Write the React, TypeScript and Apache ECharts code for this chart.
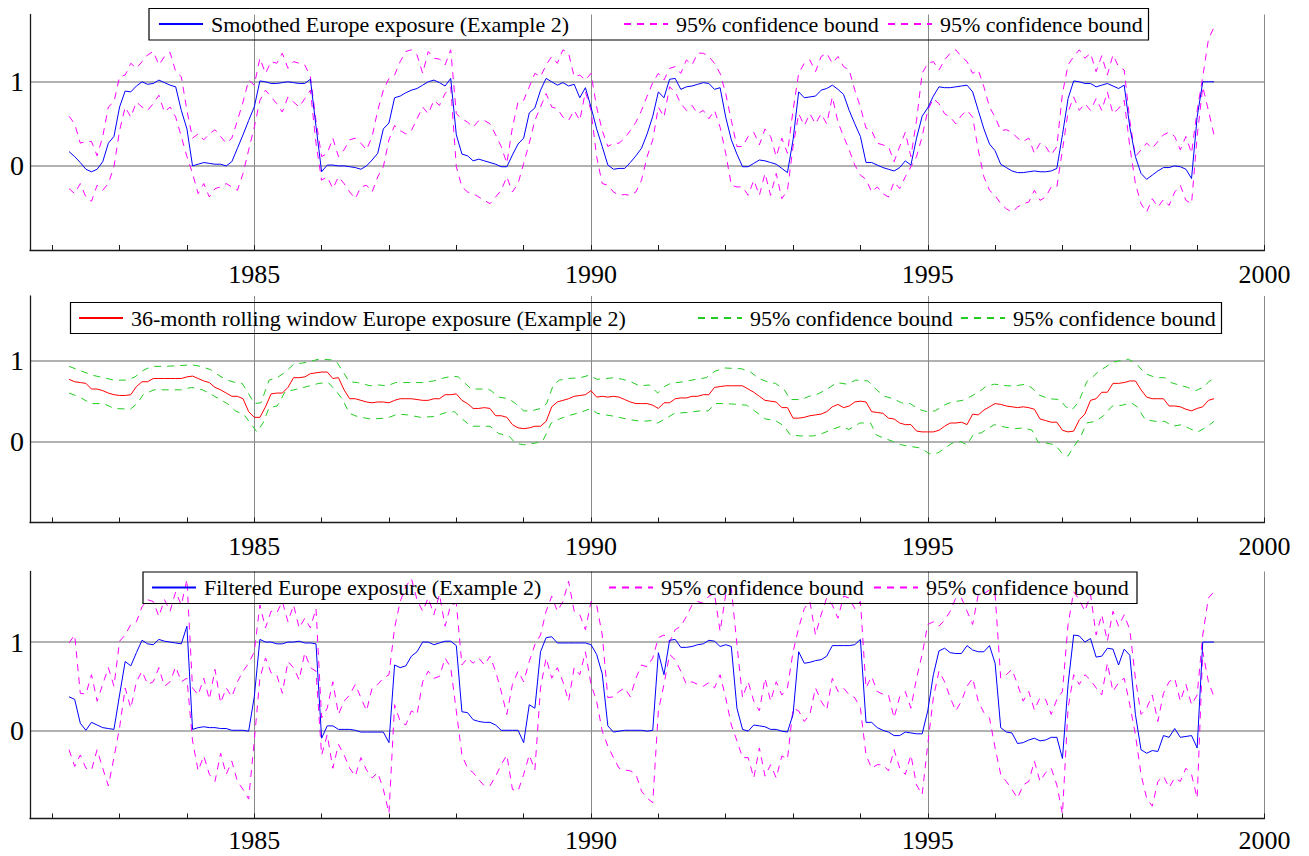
import { useEffect, useRef } from "react";
import * as echarts from "echarts";

// ---------- data (monthly, first observation April 1982) ----------
const START_YEAR = 1982.25;
const X_MIN = 1981.67;
const X_MAX = 2000;

const smoothed = [
  0.17, 0.11, 0.04, -0.04, -0.07, -0.04, 0.05, 0.27, 0.35, 0.70,
  0.89, 0.88, 0.95, 1.00, 0.97, 0.98, 1.02, 0.99, 0.96, 0.94,
  0.66, 0.44, 0.00, 0.02, 0.04, 0.03, 0.02, 0.02, 0.00, 0.05,
  0.21, 0.37, 0.54, 0.70, 1.01, 1.00, 0.98, 0.98, 0.99, 1.00,
  0.99, 0.98, 0.98, 1.03, 0.47, -0.07, 0.01, 0.01, 0.00, 0.00,
  -0.01, -0.02, -0.04, 0.00, 0.07, 0.15, 0.44, 0.51, 0.81, 0.83,
  0.87, 0.90, 0.92, 0.96, 1.00, 1.02, 0.99, 0.95, 1.04, 0.37,
  0.14, 0.12, 0.06, 0.08, 0.06, 0.04, 0.02, -0.01, -0.01, 0.13,
  0.26, 0.33, 0.63, 0.69, 0.90, 1.04, 1.00, 0.96, 0.99, 0.95,
  0.97, 0.81, 0.93, 0.70, 0.44, 0.23, 0.01, -0.04, -0.03, -0.03,
  0.04, 0.12, 0.21, 0.38, 0.59, 0.88, 0.81, 1.03, 1.04, 0.91,
  0.94, 0.95, 0.97, 0.99, 0.98, 0.91, 0.93, 0.58, 0.31, 0.14,
  -0.01, -0.01, 0.03, 0.07, 0.06, 0.04, 0.02, -0.03, -0.08, 0.31,
  0.88, 0.81, 0.82, 0.83, 0.90, 0.92, 0.96, 0.91, 0.85, 0.66,
  0.50, 0.35, 0.04, 0.04, 0.01, -0.02, -0.04, -0.06, -0.02, 0.06,
  0.01, 0.33, 0.59, 0.69, 0.83, 0.94, 0.93, 0.93, 0.94, 0.95,
  0.96, 0.88, 0.66, 0.44, 0.26, 0.18, 0.02, -0.02, -0.06, -0.08,
  -0.08, -0.07, -0.06, -0.07, -0.07, -0.06, -0.03, 0.37, 0.80, 1.01,
  1.00, 0.98, 0.98, 0.94, 0.96, 0.98, 0.95, 0.92, 0.96, 0.46,
  0.11, -0.09, -0.16, -0.11, -0.06, -0.02, -0.02, 0.00, -0.01, -0.04,
  -0.15, 0.58, 1.00, 1.00, 1.00,
];

const smoothedUpper = [
  0.59, 0.50, 0.27, 0.29, 0.29, 0.12, 0.35, 0.70, 0.76, 1.06,
  1.08, 1.22, 1.16, 1.24, 1.32, 1.36, 1.20, 1.30, 1.35, 1.12,
  1.06, 0.66, 0.33, 0.38, 0.31, 0.38, 0.43, 0.35, 0.27, 0.33,
  0.54, 0.76, 1.02, 0.96, 1.28, 1.10, 1.24, 1.22, 1.34, 1.16,
  1.24, 1.22, 1.20, 1.06, 0.54, 0.11, 0.15, 0.33, 0.11, 0.19,
  0.31, 0.33, 0.27, 0.19, 0.35, 0.66, 0.90, 1.04, 1.08, 1.24,
  1.36, 1.38, 1.32, 1.10, 1.36, 1.28, 1.27, 1.20, 1.38, 0.62,
  0.56, 0.52, 0.46, 0.54, 0.54, 0.50, 0.37, 0.23, 0.03, 0.46,
  0.76, 0.78, 0.94, 1.10, 1.06, 1.20, 1.30, 1.22, 1.38, 1.34,
  1.06, 1.08, 1.02, 1.10, 0.70, 0.42, 0.23, 0.27, 0.27, 0.33,
  0.42, 0.52, 0.66, 0.83, 0.99, 1.10, 1.02, 1.16, 1.18, 1.10,
  1.26, 1.20, 1.34, 1.34, 1.30, 1.22, 1.10, 0.86, 0.54, 0.23,
  0.23, 0.35, 0.40, 0.25, 0.44, 0.35, 0.11, 0.33, 0.15, 0.66,
  1.10, 1.22, 1.26, 1.12, 1.30, 1.34, 1.22, 1.30, 1.18, 1.14,
  0.90, 0.70, 0.45, 0.42, 0.27, 0.25, 0.23, 0.05, 0.23, 0.40,
  0.11, 0.54, 1.10, 1.22, 1.24, 1.14, 1.26, 1.34, 1.38, 1.30,
  1.24, 1.10, 1.14, 0.94, 0.70, 0.58, 0.42, 0.43, 0.40, 0.33,
  0.29, 0.33, 0.15, 0.27, 0.23, 0.13, 0.23, 0.86, 1.20, 1.30,
  1.38, 1.28, 1.34, 1.12, 1.31, 1.08, 1.32, 1.18, 1.14, 0.54,
  0.11, 0.19, 0.27, 0.21, 0.29, 0.37, 0.40, 0.35, 0.19, 0.35,
  0.15, 0.66, 1.06, 1.50, 1.65,
];

const smoothedLower = [
  -0.27, -0.33, -0.21, -0.37, -0.42, -0.23, -0.29, -0.21, -0.01, 0.42,
  0.70, 0.58, 0.76, 0.70, 0.66, 0.74, 0.84, 0.64, 0.70, 0.58,
  0.35, 0.11, -0.09, -0.33, -0.21, -0.37, -0.27, -0.25, -0.21, -0.25,
  -0.29, -0.09, 0.19, 0.46, 0.78, 0.90, 0.82, 0.74, 0.64, 0.82,
  0.76, 0.70, 0.80, 0.90, 0.27, -0.17, -0.13, -0.27, -0.13, -0.21,
  -0.31, -0.39, -0.25, -0.23, -0.31, -0.13, -0.01, 0.31, 0.48, 0.42,
  0.38, 0.42, 0.56, 0.70, 0.62, 0.78, 0.72, 0.86, 0.94, -0.01,
  -0.25, -0.31, -0.33, -0.37, -0.41, -0.45, -0.37, -0.29, -0.13, -0.31,
  -0.21, 0.03, 0.27, 0.54, 0.70, 0.86, 0.70, 0.68, 0.58, 0.54,
  0.66, 0.54, 0.88, 0.66, 0.11, -0.21, -0.23, -0.31, -0.35, -0.34,
  -0.35, -0.31, -0.17, 0.11, 0.31, 0.70, 0.58, 0.94, 0.88, 0.74,
  0.66, 0.72, 0.62, 0.66, 0.56, 0.66, 0.46, 0.15, -0.23, -0.25,
  -0.25, -0.35, -0.17, -0.35, -0.09, -0.35, -0.09, -0.39, -0.29, 0.23,
  0.62, 0.48, 0.62, 0.50, 0.62, 0.50, 0.82, 0.52, 0.35, 0.19,
  0.01, -0.11, -0.16, -0.31, -0.25, -0.33, -0.37, -0.19, -0.27, -0.13,
  -0.01, 0.11, 0.35, 0.66, 0.80, 0.74, 0.62, 0.58, 0.50, 0.60,
  0.66, 0.58, 0.19, -0.13, -0.29, -0.35, -0.45, -0.51, -0.55, -0.49,
  -0.45, -0.43, -0.29, -0.41, -0.37, -0.25, -0.25, 0.19, 0.64, 0.82,
  0.66, 0.74, 0.66, 0.80, 0.66, 0.88, 0.62, 0.68, 0.78, 0.23,
  -0.21, -0.45, -0.55, -0.39, -0.49, -0.40, -0.47, -0.31, -0.23, -0.41,
  -0.45, 0.35, 0.94, 0.66, 0.37,
];

const rolling = [
  0.77, 0.74, 0.73, 0.72, 0.65, 0.65, 0.63, 0.60, 0.58, 0.57,
  0.57, 0.58, 0.68, 0.74, 0.74, 0.78, 0.78, 0.78, 0.78, 0.78,
  0.78, 0.80, 0.81, 0.78, 0.75, 0.73, 0.67, 0.64, 0.60, 0.56,
  0.56, 0.53, 0.37, 0.30, 0.30, 0.43, 0.59, 0.60, 0.60, 0.67,
  0.79, 0.79, 0.80, 0.84, 0.85, 0.86, 0.86, 0.78, 0.79, 0.64,
  0.53, 0.53, 0.51, 0.49, 0.48, 0.49, 0.49, 0.48, 0.51, 0.53,
  0.53, 0.53, 0.52, 0.51, 0.51, 0.53, 0.53, 0.58, 0.58, 0.59,
  0.51, 0.47, 0.41, 0.41, 0.42, 0.41, 0.32, 0.32, 0.30, 0.21,
  0.17, 0.16, 0.17, 0.19, 0.19, 0.25, 0.43, 0.49, 0.51, 0.53,
  0.56, 0.57, 0.58, 0.63, 0.55, 0.56, 0.55, 0.56, 0.55, 0.52,
  0.49, 0.47, 0.47, 0.47, 0.45, 0.41, 0.48, 0.48, 0.53, 0.54,
  0.54, 0.56, 0.56, 0.58, 0.58, 0.67, 0.68, 0.69, 0.69, 0.69,
  0.69, 0.65, 0.61, 0.56, 0.51, 0.50, 0.49, 0.42, 0.42, 0.29,
  0.29, 0.30, 0.32, 0.33, 0.34, 0.37, 0.43, 0.46, 0.42, 0.44,
  0.49, 0.50, 0.49, 0.37, 0.36, 0.35, 0.29, 0.28, 0.23, 0.21,
  0.21, 0.13, 0.12, 0.12, 0.12, 0.14, 0.19, 0.23, 0.23, 0.24,
  0.21, 0.34, 0.33, 0.39, 0.43, 0.47, 0.46, 0.44, 0.43, 0.42,
  0.43, 0.42, 0.40, 0.28, 0.26, 0.24, 0.24, 0.14, 0.12, 0.13,
  0.27, 0.34, 0.51, 0.53, 0.61, 0.61, 0.72, 0.72, 0.73, 0.75,
  0.75, 0.64, 0.55, 0.53, 0.53, 0.53, 0.44, 0.44, 0.43, 0.40,
  0.38, 0.41, 0.43, 0.51, 0.53,
];

const rollingUpperYears = [
  1982.25, 1982.41, 1982.60, 1982.76, 1982.92, 1983.10, 1983.23, 1983.35, 1983.48, 1983.66,
  1983.91, 1984.07, 1984.20, 1984.35, 1984.47, 1984.60, 1984.72, 1984.82, 1984.91, 1985.00,
  1985.10, 1985.22, 1985.34, 1985.46, 1985.59, 1985.71, 1985.83, 1985.96, 1986.15, 1986.22,
  1986.32, 1986.41, 1986.53, 1986.72, 1986.85, 1986.97, 1987.10, 1987.22, 1987.38, 1987.50,
  1987.66, 1987.78, 1987.94, 1988.03, 1988.13, 1988.22, 1988.38, 1988.50, 1988.63, 1988.78,
  1988.88, 1989.00, 1989.12, 1989.25, 1989.34, 1989.44, 1989.53, 1989.66, 1989.84, 1989.97,
  1990.09, 1990.22, 1990.34, 1990.47, 1990.59, 1990.72, 1990.87, 1990.99, 1991.09, 1991.18,
  1991.37, 1991.56, 1991.71, 1991.84, 1991.99, 1992.24, 1992.37, 1992.49, 1992.65, 1992.74,
  1992.87, 1992.96, 1993.12, 1993.24, 1993.37, 1993.49, 1993.65, 1993.80, 1993.93, 1994.11,
  1994.24, 1994.36, 1994.49, 1994.61, 1994.74, 1994.86, 1994.99, 1995.11, 1995.24, 1995.36,
  1995.52, 1995.64, 1995.77, 1995.86, 1995.99, 1996.18, 1996.30, 1996.46, 1996.55, 1996.64,
  1996.80, 1996.96, 1997.05, 1997.14, 1997.24, 1997.36, 1997.45, 1997.55, 1997.64, 1997.74,
  1997.86, 1997.98, 1998.11, 1998.23, 1998.39, 1998.52, 1998.61, 1998.73, 1998.86, 1998.98,
  1999.11, 1999.17, 1999.25,
];
const rollingUpper = [
  0.93, 0.88, 0.82, 0.79, 0.76, 0.76, 0.80, 0.88, 0.93, 0.93,
  0.94, 0.95, 0.93, 0.89, 0.82, 0.76, 0.73, 0.72, 0.60, 0.47,
  0.48, 0.76, 0.79, 0.86, 0.96, 0.97, 0.99, 1.02, 1.01, 0.99,
  0.86, 0.74, 0.73, 0.69, 0.70, 0.69, 0.73, 0.73, 0.73, 0.73,
  0.75, 0.78, 0.81, 0.80, 0.72, 0.65, 0.65, 0.64, 0.55, 0.53,
  0.47, 0.38, 0.38, 0.41, 0.47, 0.70, 0.76, 0.78, 0.79, 0.82,
  0.77, 0.78, 0.79, 0.77, 0.74, 0.69, 0.70, 0.60, 0.68, 0.72,
  0.74, 0.77, 0.79, 0.87, 0.91, 0.90, 0.86, 0.78, 0.73, 0.72,
  0.64, 0.52, 0.52, 0.56, 0.59, 0.64, 0.73, 0.71, 0.76, 0.75,
  0.64, 0.56, 0.53, 0.48, 0.47, 0.40, 0.37, 0.38, 0.45, 0.49,
  0.51, 0.56, 0.62, 0.68, 0.71, 0.69, 0.69, 0.71, 0.66, 0.58,
  0.53, 0.52, 0.43, 0.39, 0.49, 0.74, 0.80, 0.88, 0.92, 0.98,
  1.00, 1.02, 0.95, 0.84, 0.79, 0.79, 0.73, 0.70, 0.67, 0.63,
  0.68, 0.74, 0.78,
];

const rollingLowerYears = [
  1982.25, 1982.41, 1982.57, 1982.76, 1982.92, 1983.16, 1983.26, 1983.35, 1983.51, 1983.73,
  1983.91, 1984.07, 1984.23, 1984.35, 1984.47, 1984.60, 1984.72, 1984.85, 1984.94, 1985.04,
  1985.13, 1985.22, 1985.34, 1985.46, 1985.59, 1985.78, 1985.96, 1986.10, 1986.22, 1986.32,
  1986.41, 1986.53, 1986.72, 1986.97, 1987.13, 1987.28, 1987.47, 1987.66, 1987.85, 1987.97,
  1988.10, 1988.22, 1988.38, 1988.50, 1988.63, 1988.78, 1988.88, 1989.00, 1989.16, 1989.28,
  1989.41, 1989.53, 1989.66, 1989.84, 1990.00, 1990.09, 1990.22, 1990.37, 1990.47, 1990.59,
  1990.75, 1990.90, 1990.99, 1991.12, 1991.24, 1991.43, 1991.62, 1991.74, 1991.84, 1991.99,
  1992.18, 1992.31, 1992.43, 1992.59, 1992.74, 1992.87, 1992.96, 1993.12, 1993.30, 1993.43,
  1993.55, 1993.71, 1993.83, 1993.99, 1994.15, 1994.24, 1994.36, 1994.49, 1994.61, 1994.74,
  1994.90, 1995.02, 1995.15, 1995.24, 1995.36, 1995.49, 1995.58, 1995.68, 1995.80, 1995.89,
  1995.99, 1996.14, 1996.30, 1996.43, 1996.55, 1996.64, 1996.77, 1996.89, 1996.99, 1997.08,
  1997.17, 1997.27, 1997.36, 1997.49, 1997.61, 1997.74, 1997.89, 1998.02, 1998.11, 1998.23,
  1998.39, 1998.52, 1998.64, 1998.77, 1998.89, 1999.01, 1999.14, 1999.25,
];
const rollingLower = [
  0.60, 0.55, 0.47, 0.47, 0.41, 0.40, 0.47, 0.58, 0.64, 0.64,
  0.64, 0.67, 0.64, 0.59, 0.53, 0.47, 0.38, 0.33, 0.23, 0.12,
  0.23, 0.42, 0.44, 0.62, 0.64, 0.68, 0.72, 0.73, 0.62, 0.51,
  0.35, 0.31, 0.28, 0.29, 0.34, 0.33, 0.30, 0.31, 0.36, 0.37,
  0.27, 0.19, 0.19, 0.19, 0.10, 0.07, -0.02, -0.04, -0.02, 0.00,
  0.23, 0.28, 0.32, 0.36, 0.41, 0.35, 0.33, 0.31, 0.29, 0.27,
  0.25, 0.26, 0.23, 0.29, 0.35, 0.36, 0.38, 0.38, 0.47, 0.47,
  0.46, 0.45, 0.38, 0.28, 0.26, 0.19, 0.08, 0.07, 0.07, 0.10,
  0.14, 0.19, 0.15, 0.23, 0.23, 0.08, 0.04, 0.00, -0.04, -0.06,
  -0.08, -0.15, -0.14, -0.09, -0.02, 0.00, -0.04, 0.09, 0.11, 0.16,
  0.21, 0.18, 0.16, 0.17, 0.14, -0.01, -0.02, -0.04, -0.14, -0.18,
  -0.06, 0.06, 0.23, 0.25, 0.32, 0.44, 0.45, 0.48, 0.43, 0.27,
  0.25, 0.25, 0.19, 0.21, 0.16, 0.12, 0.18, 0.25,
];

const filtered = [
  0.38, 0.35, 0.08, 0.00, 0.09, 0.06, 0.03, 0.02, 0.01, 0.40,
  0.78, 0.73, 0.88, 1.02, 0.98, 0.97, 1.03, 1.01, 1.00, 0.99,
  0.98, 1.18, 0.01, 0.03, 0.04, 0.03, 0.03, 0.02, 0.02, 0.00,
  0.00, 0.00, -0.01, 0.38, 1.03, 1.00, 1.00, 0.98, 0.98, 1.00,
  1.00, 1.01, 0.99, 0.99, 0.98, -0.09, 0.05, 0.05, 0.01, 0.01,
  0.01, 0.00, -0.02, -0.02, -0.02, -0.02, -0.02, -0.14, 0.74, 0.71,
  0.73, 0.84, 0.89, 1.00, 1.00, 0.97, 0.99, 1.01, 1.01, 0.96,
  0.21, 0.20, 0.12, 0.10, 0.09, 0.09, 0.06, 0.00, 0.00, 0.00,
  0.00, -0.14, 0.29, 0.25, 0.89, 1.05, 1.06, 0.99, 0.99, 0.99,
  0.99, 0.99, 0.99, 0.97, 0.86, 0.64, 0.05, -0.02, -0.01, 0.00,
  0.00, 0.00, 0.00, -0.01, 0.00, 0.88, 0.63, 1.02, 1.03, 0.94,
  0.94, 0.95, 0.97, 0.98, 1.02, 1.01, 0.95, 0.97, 0.95, 0.25,
  0.01, -0.01, 0.06, 0.05, 0.04, 0.01, 0.01, -0.01, -0.02, 0.18,
  0.89, 0.76, 0.77, 0.79, 0.80, 0.84, 0.96, 0.96, 0.96, 0.96,
  0.97, 1.03, 0.09, 0.09, 0.03, 0.00, -0.02, -0.06, -0.06, -0.02,
  -0.03, -0.04, -0.04, 0.22, 0.63, 0.90, 0.93, 0.88, 0.87, 0.87,
  0.96, 0.91, 0.89, 0.89, 0.96, 0.76, 0.03, -0.02, -0.03, -0.15,
  -0.14, -0.11, -0.09, -0.12, -0.11, -0.08, -0.08, -0.32, 0.52, 1.08,
  1.07, 1.00, 1.04, 0.83, 0.84, 0.93, 0.92, 0.74, 0.92, 0.85,
  0.18, -0.22, -0.26, -0.23, -0.24, -0.06, -0.08, 0.02, -0.08, -0.07,
  -0.06, -0.20, 1.00, 1.00, 1.00,
];

const filteredUpper = [
  0.99, 1.08, 0.42, 0.41, 0.63, 0.33, 0.52, 0.71, 0.50, 1.01,
  1.08, 1.20, 1.23, 1.40, 1.48, 1.46, 1.29, 1.48, 1.35, 1.57,
  1.42, 1.71, 0.48, 0.40, 0.59, 0.35, 0.69, 0.31, 0.48, 0.38,
  0.55, 0.67, 0.76, 0.89, 1.42, 1.16, 1.35, 1.33, 1.46, 1.23,
  1.42, 1.16, 1.27, 1.16, 1.38, 0.14, 0.25, 0.55, 0.18, 0.33,
  0.40, 0.52, 0.37, 0.22, 0.48, 0.52, 0.59, 0.63, 1.16, 1.46,
  1.63, 1.72, 1.48, 1.35, 1.50, 1.31, 1.54, 1.18, 1.42, 1.44,
  0.74, 0.82, 0.76, 0.82, 0.74, 0.84, 0.67, 0.44, 0.18, 0.52,
  0.67, 0.55, 0.78, 0.97, 1.08, 1.35, 1.52, 1.35, 1.46, 1.69,
  1.35, 1.31, 1.14, 1.46, 1.42, 1.08, 0.37, 0.38, 0.44, 0.48,
  0.38, 0.59, 0.74, 0.72, 0.82, 1.05, 1.08, 1.00, 1.14, 1.18,
  1.29, 1.42, 1.46, 1.44, 1.52, 1.55, 1.12, 1.54, 1.61, 0.97,
  0.37, 0.55, 0.33, 0.22, 0.59, 0.33, 0.55, 0.40, 0.48, 0.89,
  1.16, 1.38, 1.46, 1.08, 1.31, 1.50, 1.42, 1.27, 1.52, 1.50,
  1.38, 1.46, 0.48, 0.61, 0.44, 0.41, 0.40, 0.14, 0.38, 0.44,
  0.25, 0.59, 0.86, 1.20, 1.23, 1.18, 1.25, 1.35, 1.50, 1.50,
  1.35, 1.20, 1.54, 1.55, 1.59, 1.54, 0.59, 0.63, 0.69, 0.52,
  0.33, 0.44, 0.23, 0.37, 0.35, 0.18, 0.35, 0.44, 1.20, 1.57,
  1.48, 1.35, 1.54, 1.08, 1.31, 1.01, 1.35, 1.18, 1.31, 1.14,
  0.59, 0.18, 0.25, 0.40, 0.10, 0.42, 0.55, 0.59, 0.33, 0.52,
  0.29, 0.40, 1.08, 1.50, 1.57,
];

const filteredLower = [
  -0.22, -0.41, -0.28, -0.43, -0.45, -0.22, -0.43, -0.63, -0.31, 0.03,
  0.48, 0.25, 0.55, 0.67, 0.52, 0.55, 0.71, 0.50, 0.55, 0.72,
  0.55, 0.59, -0.12, -0.46, -0.29, -0.50, -0.58, -0.26, -0.50, -0.35,
  -0.58, -0.67, -0.78, -0.12, 0.59, 0.82, 0.65, 0.63, 0.42, 0.78,
  0.71, 0.57, 0.88, 0.71, 0.67, -0.28, -0.05, -0.43, -0.16, -0.28,
  -0.43, -0.52, -0.31, -0.45, -0.54, -0.48, -0.67, -0.94, 0.29, 0.10,
  0.06, 0.22, 0.18, 0.55, 0.67, 0.59, 0.61, 0.82, 0.71, 0.22,
  -0.28, -0.43, -0.48, -0.56, -0.63, -0.63, -0.52, -0.39, -0.28, -0.67,
  -0.69, -0.50, -0.28, -0.45, 0.48, 0.82, 0.59, 0.71, 0.55, 0.33,
  0.71, 0.63, 0.89, 0.52, 0.33, -0.01, -0.18, -0.31, -0.43, -0.45,
  -0.46, -0.50, -0.69, -0.77, -0.82, 0.22, 0.52, 0.86, 0.80, 0.67,
  0.52, 0.55, 0.52, 0.50, 0.54, 0.48, 0.63, 0.37, 0.06, -0.12,
  -0.31, -0.31, -0.54, -0.20, -0.52, -0.39, -0.54, -0.29, -0.33, 0.25,
  0.22, 0.10, 0.18, 0.48, 0.33, 0.23, 0.59, 0.44, 0.48, 0.40,
  0.37, 0.25, -0.28, -0.43, -0.39, -0.39, -0.46, -0.22, -0.43, -0.50,
  -0.28, -0.62, -0.73, -0.16, 0.37, 0.67, 0.55, 0.37, 0.22, 0.33,
  0.50, 0.59, 0.33, 0.20, 0.14, -0.20, -0.50, -0.58, -0.67, -0.77,
  -0.62, -0.58, -0.35, -0.58, -0.48, -0.43, -0.62, -0.95, 0.25, 0.63,
  0.52, 0.63, 0.57, 0.48, 0.40, 0.76, 0.44, 0.54, 0.59, 0.29,
  -0.05, -0.50, -0.77, -0.86, -0.58, -0.52, -0.65, -0.54, -0.58, -0.43,
  -0.50, -0.77, 0.89, 0.55, 0.38,
];

// ---------- labels ----------
const SER = {
  sm: "Smoothed Europe exposure (Example 2)",
  smUp: "smoothed upper bound",
  smLo: "smoothed lower bound",
  rw: "36-month rolling window Europe exposure (Example 2)",
  rwUp: "rolling upper bound",
  rwLo: "rolling lower bound",
  fl: "Filtered Europe exposure (Example 2)",
  flUp: "filtered upper bound",
  flLo: "filtered lower bound",
};
const BOUND_LABEL = "95% confidence bound";
const LEGEND_TEXT: Record<string, string> = {
  [SER.sm]: SER.sm,
  [SER.smUp]: BOUND_LABEL,
  [SER.smLo]: BOUND_LABEL,
  [SER.rw]: SER.rw,
  [SER.rwUp]: BOUND_LABEL,
  [SER.rwLo]: BOUND_LABEL,
  [SER.fl]: SER.fl,
  [SER.flUp]: BOUND_LABEL,
  [SER.flLo]: BOUND_LABEL,
};

const SERIF = "'Liberation Serif', 'Times New Roman', Times, serif";
const BLUE = "#0000ff";
const MAGENTA = "#ff00ff";
const RED = "#ff0000";
const GREEN = "#22cc22";

const monthly = (vals: number[]) => vals.map((v, i) => [START_YEAR + i / 12, v]);
const paired = (xs: number[], vals: number[]) => vals.map((v, i) => [xs[i], v]);

function buildOption() {
  const grids = [
    { left: 30, top: 14.5, width: 1234.5, height: 235.5, labelMargin: 11 },
    { left: 30, top: 296, width: 1234.5, height: 226.5, labelMargin: 11 },
    { left: 30, top: 571.5, width: 1234.5, height: 247, labelMargin: 9 },
  ];

  const xAxes = grids.map((g, i) => ({
    type: "value",
    gridIndex: i,
    min: X_MIN,
    max: X_MAX,
    splitNumber: 4,
    axisLine: { show: true, onZero: false, lineStyle: { color: "#1a1a1a", width: 1.3 } },
    axisTick: { show: true, inside: true, length: 5, lineStyle: { color: "#1a1a1a", width: 1 } },
    minorTick: { show: true, splitNumber: 5, length: 5, lineStyle: { color: "#1a1a1a", width: 1 } },
    axisLabel: {
      show: true,
      margin: g.labelMargin,
      fontFamily: SERIF,
      fontSize: 26,
      color: "#000",
      showMinLabel: false,
      formatter: (v: number) => {
        const r = Math.round(v);
        return Math.abs(v - r) < 1e-6 && r % 5 === 0 ? String(r) : "";
      },
    },
    splitLine: { show: true, showMinLine: false, showMaxLine: true, lineStyle: { color: "#8a8a8a", width: 1 } },
    minorSplitLine: { show: false },
  }));

  const yAxes = grids.map((_, i) => ({
    type: "value",
    gridIndex: i,
    min: -1,
    max: 1.8,
    interval: 1,
    axisLine: { show: true, onZero: false, lineStyle: { color: "#1a1a1a", width: 1.3 } },
    axisTick: { show: false },
    axisLabel: {
      show: true,
      margin: 6,
      fontFamily: SERIF,
      fontSize: 28,
      color: "#000",
      showMinLabel: false,
      showMaxLabel: false,
      formatter: (v: number) => (v === 0 || v === 1 ? String(v) : ""),
    },
    splitLine: { show: true, showMinLine: false, showMaxLine: false, lineStyle: { color: "#999999", width: 1.5 } },
  }));

  const line = (name: string, idx: number, data: number[][], color: string, dashed: number[] | null, z = 2) => ({
    type: "line",
    name,
    xAxisIndex: idx,
    yAxisIndex: idx,
    data,
    symbol: "none",
    showSymbol: false,
    silent: true,
    z,
    itemStyle: { color },
    lineStyle: { color, width: 1, type: dashed ?? "solid" },
    emphasis: { disabled: true },
    animation: false,
  });

  const dashM = [7, 6];
  const dashG = [7, 6];

  const series = [
    line(SER.sm, 0, monthly(smoothed), BLUE, null, 3),
    line(SER.smUp, 0, monthly(smoothedUpper), MAGENTA, dashM),
    line(SER.smLo, 0, monthly(smoothedLower), MAGENTA, dashM),
    line(SER.rw, 1, monthly(rolling), RED, null, 3),
    line(SER.rwUp, 1, paired(rollingUpperYears, rollingUpper), GREEN, dashG),
    line(SER.rwLo, 1, paired(rollingLowerYears, rollingLower), GREEN, dashG),
    line(SER.fl, 2, monthly(filtered), BLUE, null, 3),
    line(SER.flUp, 2, monthly(filteredUpper), MAGENTA, dashM),
    line(SER.flLo, 2, monthly(filteredLower), MAGENTA, dashM),
  ];

  const legendSpots: [string, number, number][] = [
    [SER.sm, 158, 24],
    [SER.smUp, 623, 24],
    [SER.smLo, 887, 24],
    [SER.rw, 78, 318],
    [SER.rwUp, 697, 318],
    [SER.rwLo, 960, 318],
    [SER.fl, 151, 587.5],
    [SER.flUp, 608, 587.5],
    [SER.flLo, 873, 587.5],
  ];
  const legend = legendSpots.map(([name, left, cy]) => ({
    show: true,
    data: [name],
    left,
    top: cy - 13,
    orient: "horizontal",
    padding: 0,
    itemGap: 0,
    itemWidth: 44,
    itemHeight: 2,
    selectedMode: false,
    itemStyle: { opacity: 0 },
    formatter: (n: string) => LEGEND_TEXT[n] ?? n,
    textStyle: { fontFamily: SERIF, fontSize: 22, color: "#000", lineHeight: 26, padding: [0, 0, 0, 3] },
  }));

  const boxes = [
    { x: 149, y: 8.5, width: 999.5, height: 31.5 },
    { x: 70.5, y: 302.5, width: 1151, height: 31 },
    { x: 143, y: 572, width: 994, height: 31.5 },
  ];
  const graphic = boxes.map((b) => ({
    type: "rect",
    silent: true,
    z: 100,
    shape: b,
    style: { fill: "none", stroke: "#000", lineWidth: 1.2 },
  }));

  return {
    animation: false,
    backgroundColor: "#ffffff",
    grid: grids.map(({ left, top, width, height }) => ({ left, top, width, height, containLabel: false, outerBoundsMode: "none" })),
    xAxis: xAxes,
    yAxis: yAxes,
    legend,
    series,
    graphic,
  };
}

export default function App() {
  const ref = useRef<HTMLDivElement | null>(null);
  useEffect(() => {
    if (!ref.current) return;
    const chart = echarts.init(ref.current, undefined, { renderer: "svg" });
    chart.setOption(buildOption() as any);
    return () => chart.dispose();
  }, []);
  return (
    <div
      ref={ref}
      style={{ position: "fixed", left: 0, top: 0, width: 1309, height: 856, background: "#fff" }}
    />
  );
}
